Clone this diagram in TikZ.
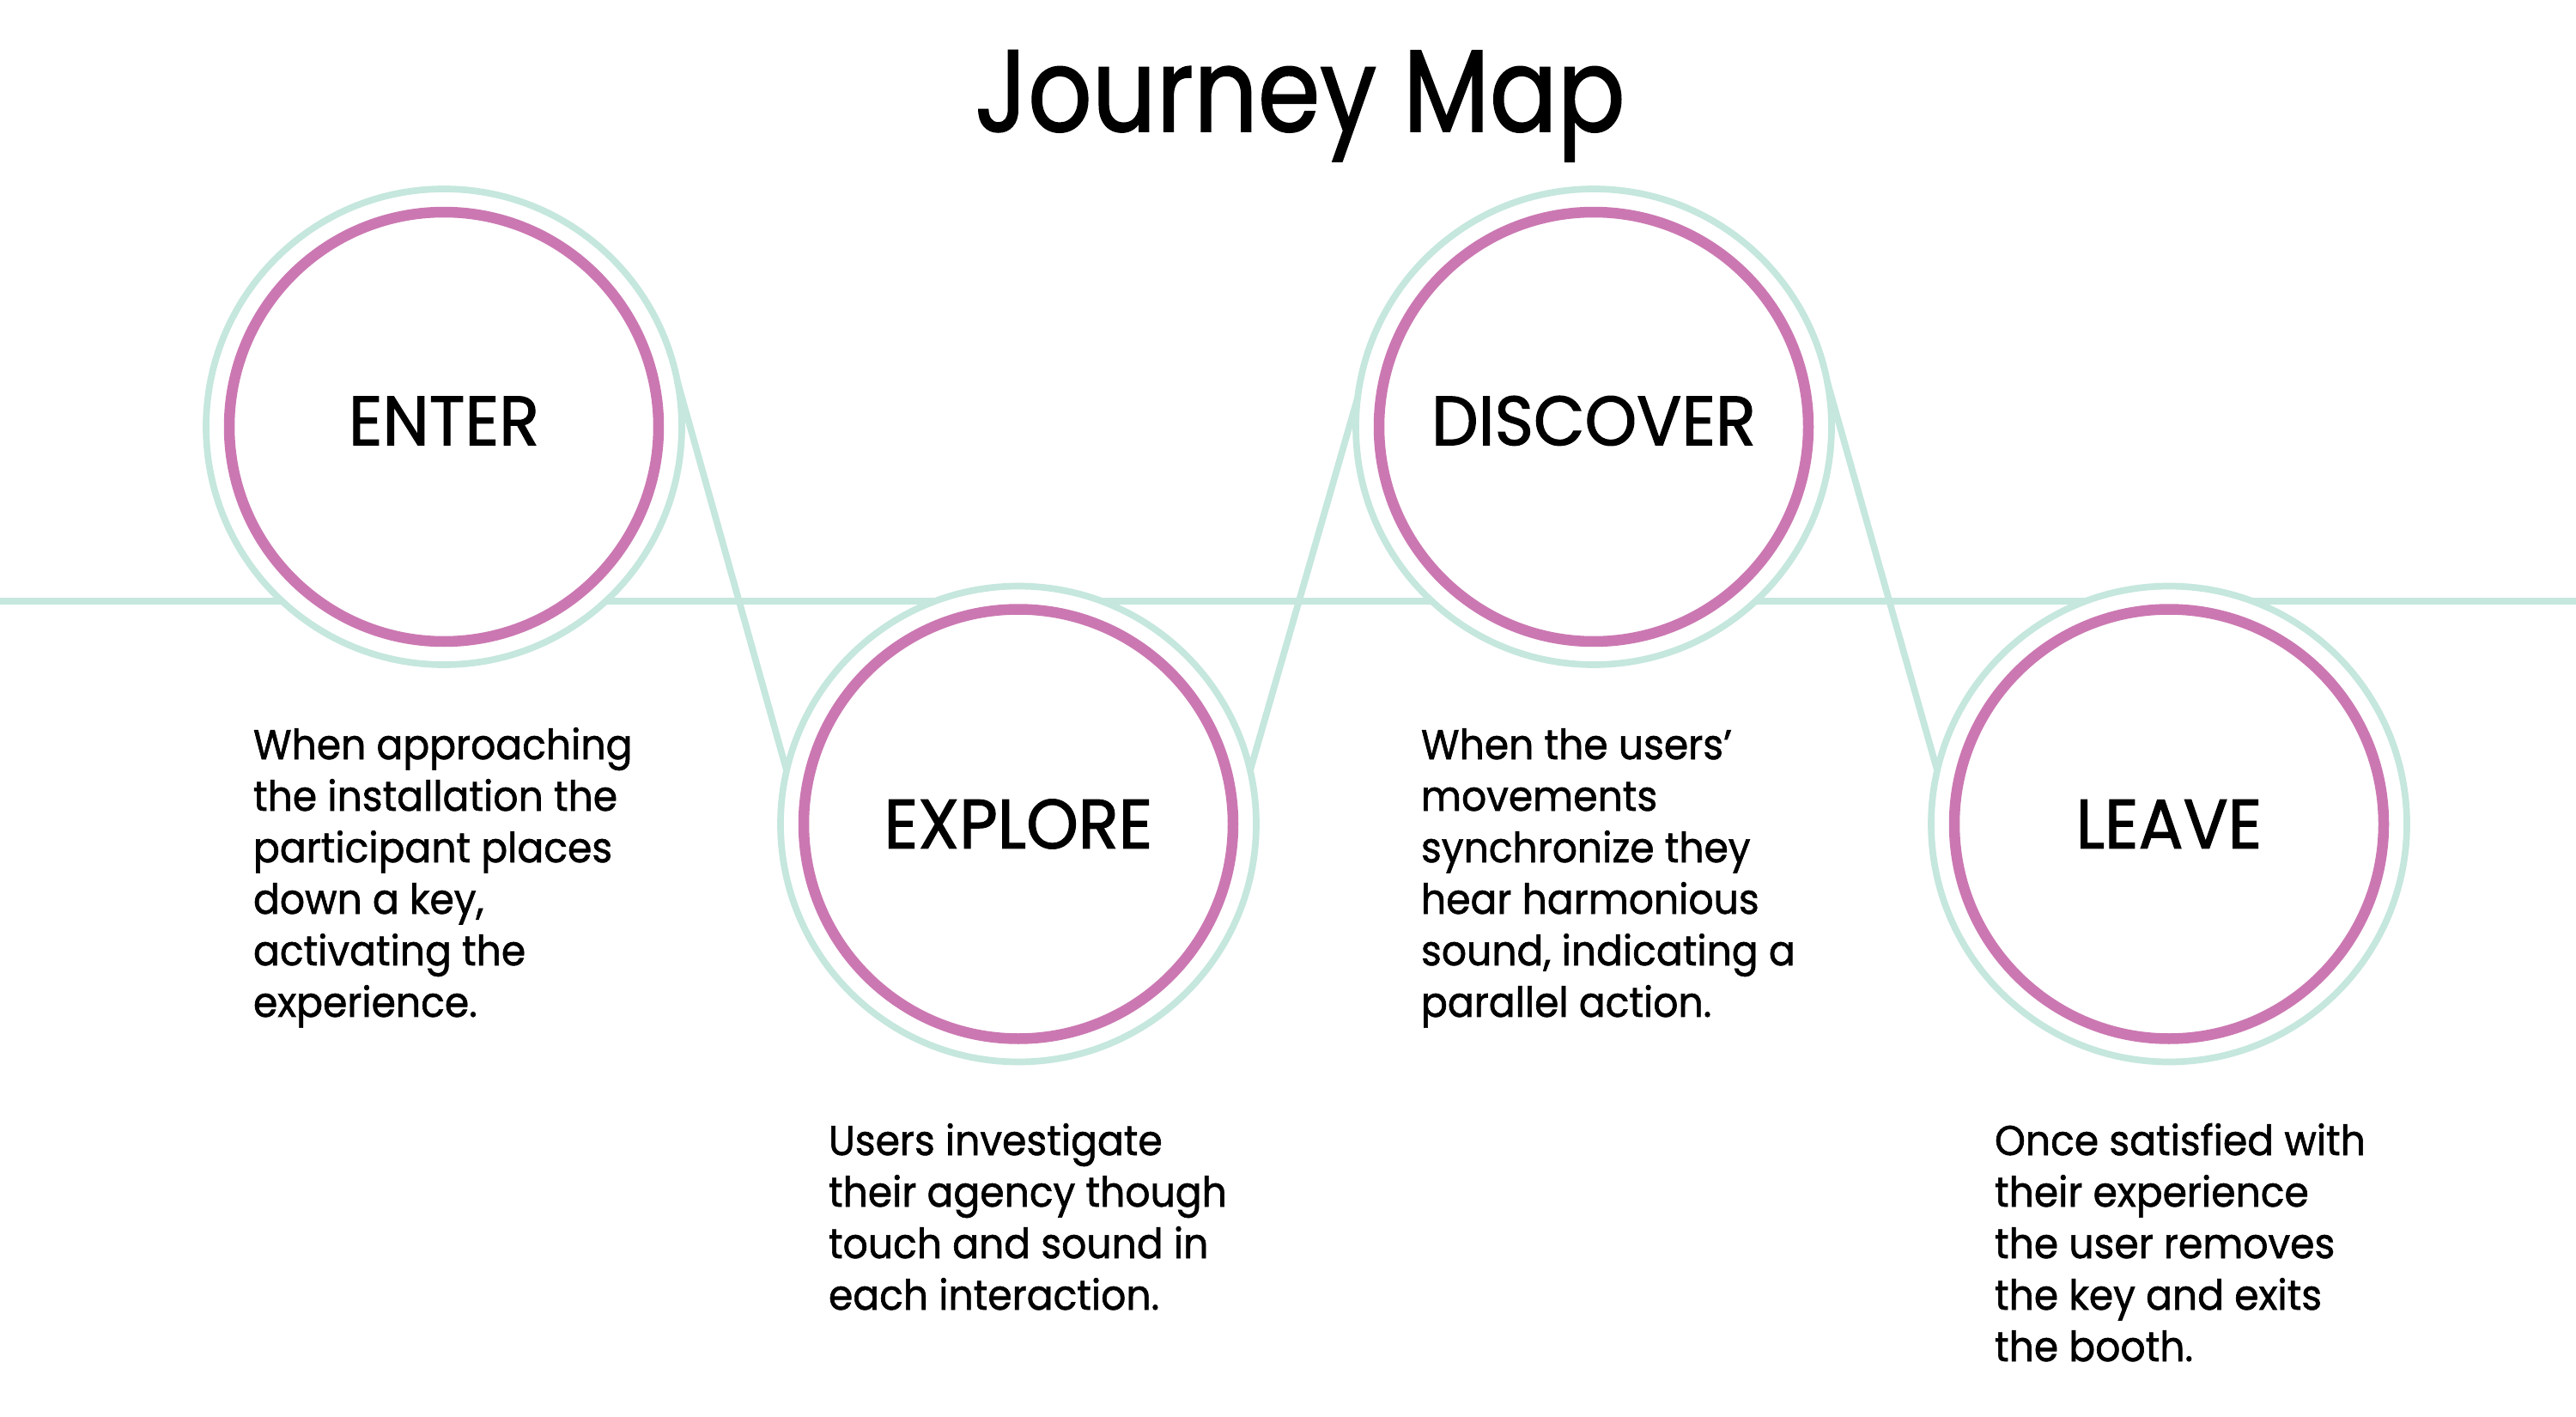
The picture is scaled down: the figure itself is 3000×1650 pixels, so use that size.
\documentclass[tikz,border=0pt]{standalone}
\usepackage{fontspec}
\setmainfont{Poppins}[FakeStretch=0.94, FakeBold=1.2]
\newfontfamily\stagefont{Poppins}[FakeStretch=0.95, FakeBold=1.4]
\newfontfamily\headfont{Poppins}[FakeStretch=0.86, FakeBold=1.2]
\definecolor{ringteal}{HTML}{C5E7DD}
\definecolor{ringpink}{HTML}{CB78B2}
\begin{document}
\begin{tikzpicture}[x=0.24pt,y=-0.24pt,
  track/.style={draw=ringteal, line width=1.85pt, line cap=round},
  outerring/.style={circle, draw=ringteal, fill=white, line width=1.85pt,
    minimum size=132.96pt, inner sep=0pt, outer sep=0pt},
  stage/.style={circle, draw=ringpink, line width=3pt, minimum size=120pt,
    inner sep=0pt, outer sep=0pt, font=\stagefont\fontsize{19.5}{22}\selectfont},
  raised/.style={text height=13.65pt, text depth=3.4pt},
  note/.style={anchor=base west, inner sep=0pt, outer sep=0pt,
    font=\fontsize{11.66}{14.4}\selectfont},
  heading/.style={anchor=base, inner sep=0pt, font=\headfont\fontsize{32.6}{36}\selectfont}]
% page
\fill[white] (0,0) rectangle (3000,1650);
\useasboundingbox (0,0) rectangle (3000,1650);

% title
\node[heading] (title) at (1514,153) {Journey Map};

% horizontal track behind the stages
\coordinate (trackL) at (0,700);
\coordinate (trackR) at (3000,700);
\draw[track, line cap=butt] (trackL) -- (trackR);

% outer rings
\node[outerring] (enter-o)    at (517,497)    {};
\node[outerring] (explore-o)  at (1186,959.5) {};
\node[outerring] (discover-o) at (1856,497)   {};
\node[outerring] (leave-o)    at (2526,959.5) {};

% zigzag between the stages
\draw[track] (enter-o.11)    -- (explore-o.167);
\draw[track] (explore-o.13)  -- (discover-o.173);
\draw[track] (discover-o.11) -- (leave-o.167);

% inner rings with the stage names
\node[stage, raised] (enter)    at (517,497)    {ENTER};
\node[stage]         (explore)  at (1186,959.5) {EXPLORE};
\node[stage, raised] (discover) at (1856,497)   {DISCOVER};
\node[stage]         (leave)    at (2526,959.5) {LEAVE};

% descriptions
\node[note] (enter-t) at (295,884) {\parbox[t]{220pt}{When approaching\\
the installation the\\participant places\\down a key,\\activating the\\experience.}};
\node[note] (explore-t) at (965,1345) {\parbox[t]{220pt}{Users investigate\\
their agency though\\touch and sound in\\each interaction.}};
\node[note] (discover-t) at (1655,884) {\parbox[t]{220pt}{When the users’\\
movements\\synchronize they\\hear harmonious\\sound, indicating a\\parallel action.}};
\node[note] (leave-t) at (2323,1345) {\parbox[t]{220pt}{Once satisfied with\\
their experience\\the user removes\\the key and exits\\the booth.}};
\end{tikzpicture}
\end{document}
